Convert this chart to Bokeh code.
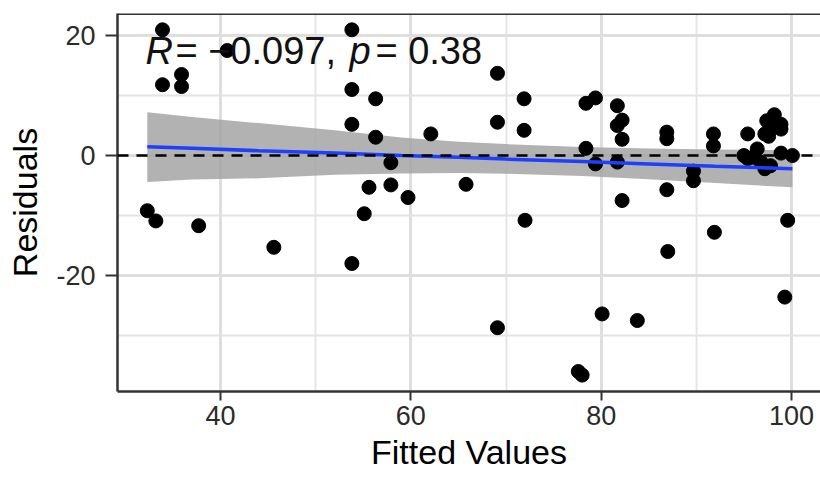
from bokeh.plotting import figure
from bokeh.models import FixedTicker, Span, Label, Range1d, ColumnDataSource
from bokeh.embed import file_html
from bokeh.resources import INLINE

# ---- data ----
fitted = [32.3, 33.2, 33.9, 33.9, 35.9, 35.9, 37.7, 40.7, 45.6,
          53.8, 53.8, 53.8, 53.8, 55.1, 55.6, 56.3, 56.3, 57.9, 57.9, 59.7, 62.1, 65.8,
          69.1, 69.1, 69.1, 71.9, 71.9, 72.0,
          77.6, 78.0, 78.4, 78.4, 79.4, 79.4, 80.1,
          81.7, 81.7, 81.7, 82.2, 82.2, 82.2, 83.8,
          86.9, 86.9, 86.9, 87.0, 89.7, 89.7,
          91.8, 91.8, 91.9,
          95.0, 95.4, 95.4, 96.0, 96.4, 96.8, 97.2, 97.2, 97.4, 97.6, 97.8, 97.8,
          98.2, 98.9, 98.9, 98.9, 99.3, 99.6, 100.1]
residuals = [-9.2, -10.9, 20.95, 11.8, 13.5, 11.5, -11.7, 17.5, -15.3,
             20.95, 11.0, 5.2, -18.0, -9.7, -5.3, 9.45, 3.05, -1.2, -4.9, -7.0, 3.6, -4.8,
             13.7, 5.55, -28.7, 9.45, 4.2, -10.8,
             -36.0, -36.6, 8.7, 1.2, 9.6, -1.4, -26.4,
             8.3, 5.0, -1.1, 5.9, 2.7, -7.5, -27.5,
             3.9, 2.8, -5.7, -16.0, -2.6, -4.2,
             3.6, 1.6, -12.8,
             0.0, 3.6, -0.5, -0.3, 1.1, -1.1, -2.2, 3.6, 5.8, 3.2, 4.45, -1.7,
             6.8, 5.2, 4.4, 0.4, -23.6, -10.8, 0.0]

band_x = [32.3, 37, 44, 52, 59, 65, 70, 78, 85, 92, 100.1]
band_fit = [1.45, 1.2, 0.8, 0.4, 0.0, -0.3, -0.6, -1.0, -1.4, -1.8, -2.2]
band_upper = [7.2, 6.4, 5.4, 4.2, 3.0, 2.3, 1.9, 1.4, 1.15, 1.0, 0.9]
band_lower = [-4.4, -4.0, -3.8, -3.2, -3.0, -2.9, -3.05, -3.4, -3.95, -4.6, -5.3]

x_ticks = [40, 60, 80, 100]
x_minor = [50, 70, 90]
y_ticks = [-20, 0, 20]
y_minor = [-30, -10, 10]
y_tick_labels = {-20: "-20", 0: "0", 20: "20"}

FONT = "Liberation Sans"

p = figure(width=820, height=482,
           x_range=Range1d(29.17, 103.05), y_range=Range1d(-39.33, 23.67),
           output_backend="svg", toolbar_location=None,
           min_border_left=117, min_border_right=0,
           min_border_top=13, min_border_bottom=91)
p.outline_line_color = None
p.background_fill_color = "white"

# grids
for g, t, m in ((p.xgrid, x_ticks, x_minor), (p.ygrid, y_ticks, y_minor)):
    g.ticker = FixedTicker(ticks=t, minor_ticks=m)
    g.grid_line_color = "#dedede"
    g.grid_line_width = 3
    g.minor_grid_line_color = "#e4e4e4"
    g.minor_grid_line_width = 1.8

# axes
p.xaxis.ticker = FixedTicker(ticks=x_ticks, minor_ticks=x_minor)
p.yaxis.ticker = FixedTicker(ticks=y_ticks, minor_ticks=y_minor)
p.yaxis.major_label_overrides = y_tick_labels
for ax in (p.xaxis, p.yaxis):
    ax.axis_line_color = "#333333"
    ax.axis_line_width = 2.5
    ax.major_tick_line_color = "#333333"
    ax.major_tick_line_width = 2
    ax.major_tick_in = 0
    ax.minor_tick_line_color = None
    ax.major_label_text_font = FONT
    ax.major_label_text_font_size = "27px"
    ax.major_label_text_color = "#2b2b2b"
    ax.axis_label_text_font = FONT
    ax.axis_label_text_font_size = "34px"
    ax.axis_label_text_font_style = "normal"
    ax.axis_label_text_color = "black"
p.xaxis.major_tick_out = 9
p.yaxis.major_tick_out = 12
p.xaxis.axis_label = "Fitted Values"
p.yaxis.axis_label = "Residuals"
p.xaxis.major_label_standoff = 5
p.yaxis.major_label_standoff = 10
p.xaxis.axis_label_standoff = 5
p.yaxis.axis_label_standoff = 9

# top border of the panel
p.add_layout(Span(location=23.67, dimension="width", line_color="#333333", line_width=3))

# confidence band
band = ColumnDataSource(dict(x=band_x, lo=band_lower, hi=band_upper, fit=band_fit))
p.varea(x="x", y1="lo", y2="hi", source=band, fill_color="#a4a4a4", fill_alpha=0.85)

# zero line
p.add_layout(Span(location=0, dimension="width", line_color="black",
                  line_width=2.5, line_dash="11 8"))

# points
p.scatter(fitted, residuals, size=14, color="black")

# regression line
p.line(x="x", y="fit", source=band, line_color="#1f3fff", line_width=3.5)

# annotation
parts = [("R", "italic", 0), ("= \u22120.097,", "normal", 30),
         ("p", "italic", 204), ("= 0.38", "normal", 230)]
for txt, style, off in parts:
    p.add_layout(Label(x=32.1, y=17.5, x_offset=off, text=txt,
                       text_font=FONT, text_font_size="38px",
                       text_font_style=style, text_color="#111111",
                       text_baseline="middle", text_align="left"))

open("out.html", "w").write(file_html(p, INLINE))
